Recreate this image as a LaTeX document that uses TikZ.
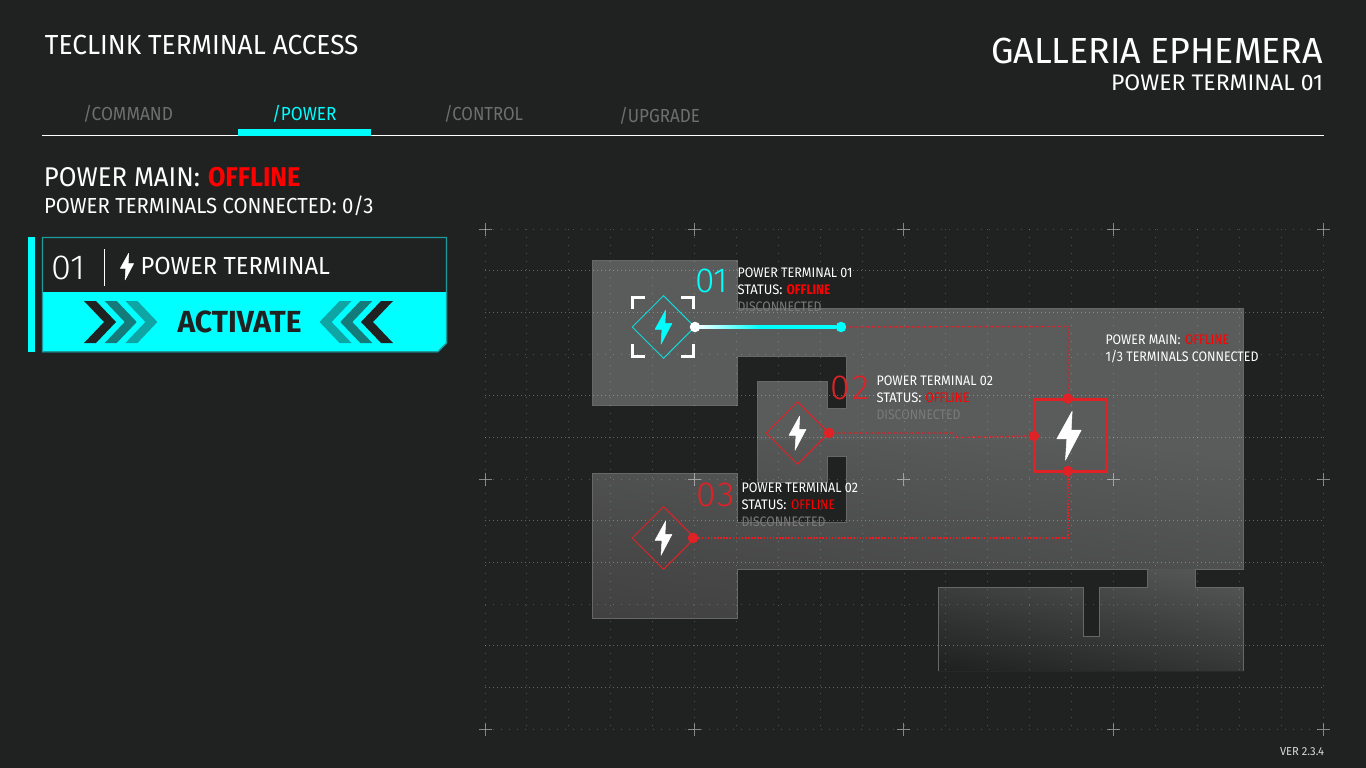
\documentclass[tikz,border=0pt]{standalone}
\usepackage{fontspec}
\usepackage{graphicx}
\usetikzlibrary{shapes.geometric,calc}
\setmainfont{Fira Sans}[BoldFont={Fira Sans}]
\newfontfamily\uireg{Fira Sans}
\newfontfamily\uilight{Fira Sans Light}
\newfontfamily\uibold{Fira Sans}[BoldFont={Fira Sans Bold}]
\definecolor{bgdark}{HTML}{202222}
\definecolor{floorc}{HTML}{5A5B5B}
\definecolor{floormid}{HTML}{535454}
\definecolor{floorlow}{HTML}{404040}
\definecolor{roommid}{HTML}{484848}
\definecolor{flooredge}{HTML}{666766}
\definecolor{cyanui}{HTML}{00FFFF}
\definecolor{cyanline}{HTML}{12D8D8}
\definecolor{teal}{HTML}{1F9A9A}
\definecolor{redui}{HTML}{E02226}
\definecolor{offred}{HTML}{FF0000}
\definecolor{greyui}{HTML}{7A7A7A}
\definecolor{tabgrey}{HTML}{6E6E6E}
\definecolor{chevmid}{HTML}{147A7A}
\definecolor{chevlight}{HTML}{0FA5A5}
\newcommand\lbl[7]{\node[lblbase,text=#6] (#1) at (#2,#3) {\fontsize{#4pt}{#4pt}\selectfont\resizebox{#5pt}{\height}{#7}};}
\newcommand\bolt[4]{\fill[#4,draw=#4,line width=.5pt,line join=round,shift={(#1,#2)},scale=#3] (2.2,-17) -- (-8.5,2.3) -- (-1.5,2.3) -- (-2.5,17.3) -- (8.5,-3.7) -- (1.5,-3.7) -- cycle;}
\def\floorpts{(938,671) -- (938,587) -- (1083,587) -- (1083,636) -- (1099,636) -- (1099,587) -- (1147,587) -- (1147,569) -- (737,569) -- (737,618) -- (592,618) -- (592,473) -- (737,473) -- (737,522) -- (846,522) -- (846,456) -- (827,456) -- (827,482) -- (757,482) -- (757,381) -- (827,381) -- (827,408) -- (846,408) -- (846,356) -- (737,356) -- (737,405) -- (592,405) -- (592,260) -- (737,260) -- (737,308) -- (1243,308) -- (1243,569) -- (1195,569) -- (1195,587) -- (1243,587) -- (1243,671)}
\tikzset{
  lblbase/.style={anchor=base west,inner sep=0pt,outer sep=0pt},
  griddense/.style={white,opacity=.3,line width=1pt,dash pattern=on 1pt off 3pt},
  gridsparse/.style={white,opacity=.2,line width=1pt,dash pattern=on 1pt off 7pt},
  gridvert/.style={white,opacity=.22,line width=1pt,dash pattern=on 1pt off 7pt},
  crossmark/.style={white,opacity=.45,line width=1pt},
  reddots/.style={redui,line width=1.4pt,dash pattern=on 1.6pt off 1.5pt},
  termdiamond/.style={shape=diamond,draw,line width=1pt,minimum width=63pt,minimum height=63pt,inner sep=0pt},
  portdot/.style={shape=circle,fill=redui,minimum size=10.5pt,inner sep=0pt},
  bracket/.style={white,line width=3pt},
}
\begin{document}
\begin{tikzpicture}[x=1pt,y=-1pt]
\useasboundingbox (0,0) rectangle (1366,768);
\fill[bgdark] (0,0) rectangle (1366,768);
% floor plan
\fill[floorc] \floorpts -- cycle;
\begin{scope}
\clip \floorpts -- cycle;
\shade[top color=floorc,middle color=floormid,bottom color=floorlow,shading angle=-8] (592,440) rectangle (1243,640);
\shade[top color=floormid,middle color=roommid,bottom color=bgdark,shading angle=-12] (938,569) rectangle (1243,680);
\end{scope}
\draw[flooredge,line width=1pt] \floorpts;
% grid
\foreach \gy in {270,312,395,437,520,562,645,687}{\draw[griddense] (485,\gy) -- (1323,\gy);}
\foreach \gy in {229,354,479,604,729}{\draw[gridsparse] (485,\gy) -- (1323,\gy);}
\foreach \gi in {0,...,20}{\draw[gridvert] ({485+\gi*41.9},229) -- ({485+\gi*41.9},729);}
\foreach \cx in {485,694,903,1113,1323}{\foreach \cy in {229,479,729}{
  \draw[crossmark] (\cx-6.5,\cy) -- (\cx+6.5,\cy) (\cx,\cy-6.5) -- (\cx,\cy+6.5);}}
% header
\uireg
\lbl{title}{45}{55}{27.6}{313.5}{white}{TECLINK TERMINAL ACCESS}
\lbl{gallery}{991}{63.2}{36.3}{332}{white}{GALLERIA EPHEMERA}
\lbl{subtitle}{1111}{90}{22.5}{212}{white}{POWER TERMINAL 01}
\lbl{tabcmd}{83}{121}{18.9}{90}{tabgrey}{/COMMAND}
\lbl{tabpow}{272}{121}{18.9}{64.5}{cyanui}{/POWER}
\lbl{tabctl}{444}{121}{18.9}{79}{tabgrey}{/CONTROL}
\lbl{tabupg}{619}{122}{18.9}{81}{tabgrey}{/UPGRADE}
\draw[white,line width=1.3pt] (42,135.5) -- (1324,135.5);
\fill[cyanui] (238,129) rectangle (371,135.7);
% status
\lbl{pmain}{44}{186}{27.1}{156}{white}{POWER MAIN:}
\lbl{pmainoff}{208}{186}{27.1}{92.5}{offred}{\uibold\bfseries OFFLINE}
\lbl{pconn}{44}{213}{21.8}{329.5}{white}{POWER TERMINALS CONNECTED: 0/3}
% left panel
\fill[cyanui] (28,237) rectangle (35,352);
\fill[cyanui] (42,292) -- (447,292) -- (447,343) -- (438,352) -- (42,352) -- cycle;
\draw[teal,line width=1.4pt] (42.5,237.5) -- (446.5,237.5) -- (446.5,343) -- (438,351.7) -- (42.5,351.7) -- cycle;
\foreach \ci/\cc in {2/chevlight,1/chevmid,0/bgdark}{
  \fill[\cc] ({84+\ci*20.7},301) -- ({96+\ci*20.7},301) -- ({116+\ci*20.7},322) -- ({96+\ci*20.7},343) -- ({84+\ci*20.7},343) -- ({104+\ci*20.7},322) -- cycle;
  \fill[\cc] ({393-\ci*20.7},301) -- ({381-\ci*20.7},301) -- ({361-\ci*20.7},322) -- ({381-\ci*20.7},343) -- ({393-\ci*20.7},343) -- ({373-\ci*20.7},322) -- cycle;
}
\lbl{pnum}{51.5}{279}{34.8}{34}{white}{\uilight 01}
\draw[white,line width=1pt] (104.5,249) -- (104.5,286);
\bolt{127}{266.5}{.78}{white}
\lbl{pname}{140.5}{274.5}{24.7}{189.5}{white}{POWER TERMINAL}
\lbl{pact}{177.5}{332}{30.5}{124}{bgdark}{\uibold\bfseries ACTIVATE}
% terminals
\node[termdiamond,draw=cyanline] (t1) at (663.5,327) {};
\node[termdiamond,draw=redui] (t2) at (797.5,433) {};
\node[termdiamond,draw=redui] (t3) at (663.5,538) {};
\node[shape=rectangle,draw=redui,line width=3pt,minimum width=72pt,minimum height=72pt,inner sep=0pt] (mainbox) at (1070,435.5) {};
\bolt{663.5}{327}{1}{cyanui}
\bolt{797.5}{433}{1}{white}
\bolt{663.5}{538}{1}{white}
\bolt{1069}{435.5}{1.43}{white}
% brackets
\draw[bracket] (632.5,309) -- (632.5,297) -- (645,297);
\draw[bracket] (681,297) -- (693.5,297) -- (693.5,309);
\draw[bracket] (632.5,344) -- (632.5,356) -- (645,356);
\draw[bracket] (681,356) -- (693.5,356) -- (693.5,344);
% connectors
\coordinate (c1) at (1068,326.5);
\coordinate (c2a) at (955,433);
\coordinate (c2b) at (957,437.5);
\coordinate (c3) at (1068,538);
\coordinate (t1mid) at (760,327);
\node[portdot,fill=white] (t1out) at (695,327) {};
\node[portdot,fill=cyanui] (t1end) at (841,327) {};
\node[portdot] (t2out) at (829,433) {};
\node[portdot] (t3out) at (693,538) {};
\node[portdot] (maintop) at (1068,398.5) {};
\node[portdot] (mainleft) at (1034,436) {};
\node[portdot] (mainbot) at (1068,471) {};
\draw[reddots] (t1end) -- (c1) -- (maintop);
\draw[reddots] (t2out) -- (c2a) -- (c2b) -- (mainleft);
\draw[reddots] (t3out) -- (c3) -- (mainbot);
\draw[cyanui,line width=4.4pt] (t1out) -- (t1end);
\shade[left color=white,right color=cyanui] ($(t1out)+(0,-1.9)$) rectangle ($(t1mid)+(0,1.9)$);
% terminal labels
\lbl{n1}{695.5}{292}{34.8}{33}{cyanui}{\uilight 01}
\lbl{l1a}{737.5}{277}{13.8}{115}{white}{POWER TERMINAL 01}
\lbl{l1b}{737.5}{294}{13.8}{45}{white}{STATUS:}
\lbl{l1c}{786.5}{294}{13.8}{44}{offred}{\uibold\bfseries OFFLINE}
\lbl{l1d}{737.5}{311}{13.8}{84}{greyui}{DISCONNECTED}
\lbl{n2}{830.5}{399}{34.8}{38.5}{redui}{\uilight 0\kern.06em 2}
\lbl{l2a}{876.5}{385}{13.8}{116.5}{white}{POWER TERMINAL 02}
\lbl{l2b}{876.5}{402}{13.8}{45}{white}{STATUS:}
\lbl{l2c}{925.5}{402}{13.8}{44}{offred}{OFFLINE}
\lbl{l2d}{876.5}{419}{13.8}{84}{greyui}{DISCONNECTED}
\lbl{n3}{696}{506.5}{34.8}{39}{redui}{\uilight 0\kern.06em 3}
\lbl{l3a}{741.5}{492}{13.8}{116.5}{white}{POWER TERMINAL 02}
\lbl{l3b}{741.5}{509}{13.8}{45}{white}{STATUS:}
\lbl{l3c}{791}{509}{13.8}{44}{offred}{OFFLINE}
\lbl{l3d}{741.5}{526}{13.8}{84}{greyui}{DISCONNECTED}
\lbl{m1}{1105.5}{344}{13.8}{75}{white}{POWER MAIN:}
\lbl{m2}{1185}{344}{13.8}{44}{offred}{OFFLINE}
\lbl{m3}{1105.5}{361}{13.8}{153}{white}{1/3 TERMINALS CONNECTED}
\lbl{ver}{1280}{755}{11.6}{44}{white!85!black}{VER 2.3.4}
\end{tikzpicture}
\end{document}
